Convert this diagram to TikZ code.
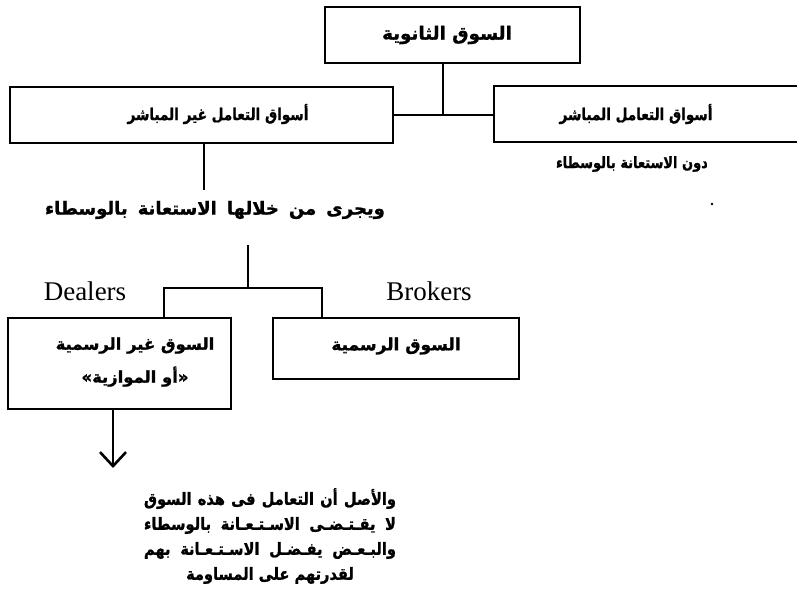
\documentclass[tikz,border=0pt]{standalone}
\usepackage{graphicx}
\usepackage{fontspec}
\setmainfont{Liberation Serif}
\newfontfamily\arabicfont[Script=Arabic, FakeBold=1.2]{DejaVu Sans Bold}
\TeXXeTstate=1
\usetikzlibrary{arrows.meta}
\tikzset{
  box/.style={draw, line width=1.8pt, inner sep=0pt},
  link/.style={line width=2.4pt},
  artext/.style={font=\arabicfont\fontsize{#1}{25}\selectfont, inner sep=0pt},
  en/.style={font=\fontsize{27}{30}\selectfont, inner sep=0pt}
}
\begin{document}
\begin{tikzpicture}[x=1pt,y=-1pt]
\useasboundingbox (0,0) rectangle (797,599);
\fill[white] (0,0) rectangle (797,599);
% boxes
\node[box, minimum width=255pt, minimum height=56pt] (top) at (452.5,35) {};
\node[box, minimum width=383pt, minimum height=56pt] (L1) at (201.5,115) {};
\node[box, minimum width=316pt, minimum height=56pt] (R1) at (652,114) {};
\node[box, minimum width=223pt, minimum height=91pt] (L2) at (119.5,363.5) {};
\node[box, minimum width=246pt, minimum height=61pt] (R2) at (396,348.5) {};
% texts
\node[artext=18.3] (ttop) at (447,35) {\beginR السوق الثانوية\endR};
\node[artext=13.6] (tL1) at (218,114) {\scalebox{1}[1.2]{\beginR أسواق التعامل غير المباشر\endR}};
\node[artext=13.6] (tR1) at (636,114) {\scalebox{1}[1.2]{\beginR أسواق التعامل المباشر\endR}};
\node[artext=13] (tR1b) at (632,164) {\scalebox{1}[1.2]{\beginR دون الاستعانة بالوسطاء\endR}};
\node[artext=18] (tvia) at (215,210) {\hbox to 340pt{\beginR ويجرى من خلالها الاستعانة بالوسطاء\endR}};
\node[en] (dealers) at (85,291) {Dealers};
\node[en] (brokers) at (429,291) {Brokers};
\node[align=center, inner sep=0pt, font=\arabicfont\fontsize{16.4}{33}\selectfont] (tL2) at (135,362) {\beginR السوق غير الرسمية\endR\\\beginR «أو الموازية»\endR};
\node[artext=17] (tR2) at (396,346) {\beginR السوق الرسمية\endR};
\node[artext=14.6, align=center] (para) at (270,536) {\scalebox{1}[1.15]{\hbox to 252pt{\beginR والأصل أن التعامل فى هذه السوق\endR}}\\
\scalebox{1}[1.15]{\hbox to 252pt{\beginR لا يقـتـضـى الاسـتـعـانة بالوسطاء\endR}}\\
\scalebox{1}[1.15]{\hbox to 252pt{\beginR والبـعـض يفـضـل الاسـتـعـانة بهم\endR}}\\
\scalebox{1}[1.15]{\beginR لقدرتهم على المساومة\endR}};
\fill (712,204) circle (1.3pt);
% connectors
\coordinate (j1) at (443,115);
\draw[link] (j1 |- top.south) -- (j1);
\draw[link] (L1.east |- j1) -- (R1.west |- j1);
\coordinate (e1) at (204,190);
\draw[link] (e1 |- L1.south) -- (e1);
\coordinate (s2) at (248,245);
\coordinate (a2) at (164,288);
\coordinate (b2) at (322,288);
\draw[link] (s2) -- (s2 |- a2);
\draw[link] (L2.north -| a2) -- (a2) -- (b2) -- (R2.north -| b2);
\coordinate (tip) at (113,468);
\draw[link, -{Straight Barb[length=14pt,width=26pt,line width=2.6pt]}] (L2.south -| tip) -- (tip);
\end{tikzpicture}
\end{document}
